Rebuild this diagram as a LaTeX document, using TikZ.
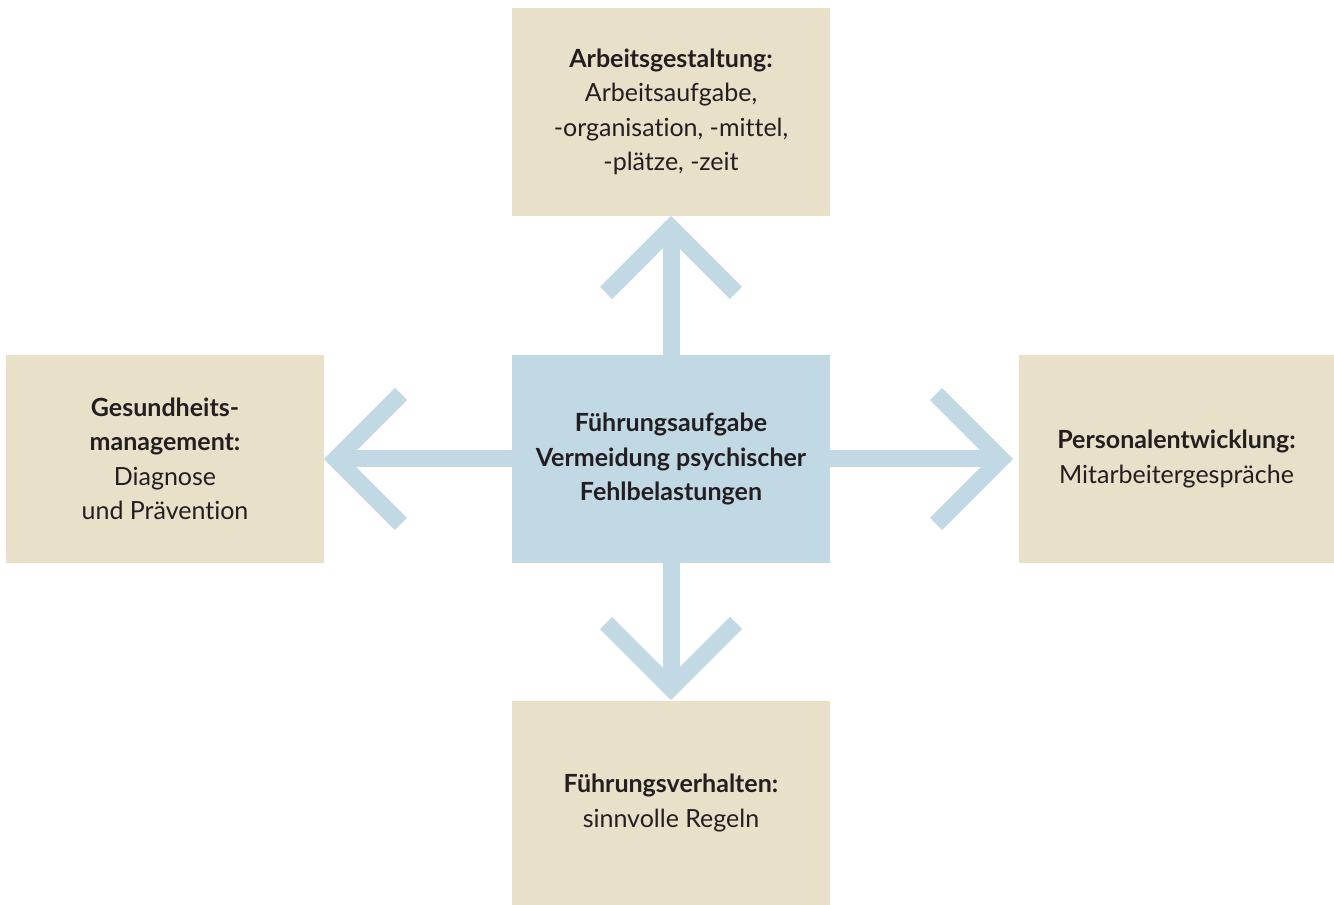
\documentclass[tikz,border=0pt]{standalone}
\usepackage{fontspec}
\setmainfont{Lato}[Ligatures=NoCommon]
\usetikzlibrary{positioning,calc}
\definecolor{Beige}{HTML}{E8E0C8}
\definecolor{Sky}{HTML}{C1D9E5}
\definecolor{Ink}{HTML}{231F20}
\tikzset{
  fieldbox/.style={fill=Beige,draw=none,outer sep=0pt,minimum width=318pt,minimum height=208pt,align=center,text=Ink,font=\fontsize{25}{34.5}\selectfont},
  hubbox/.style={fill=Sky,draw=none,outer sep=0pt,minimum width=318pt,minimum height=208pt,align=center,text=Ink,font=\fontsize{25}{34.5}\selectfont\bfseries},
  shaft/.style={draw=Sky,line width=17pt},
  chev/.style={draw=Sky,line width=17pt,line cap=butt,line join=miter}
}
\begin{document}
\begin{tikzpicture}[x=1pt,y=1pt]
  \useasboundingbox (0,0) rectangle (1334,905);
  \node[hubbox] (hub) at (671,446) {Führungsaufgabe\\Vermeidung psychischer\\Fehlbelastungen};
  \node[fieldbox,above=139pt of hub] (design) {\textbf{Arbeitsgestaltung:}\\Arbeitsaufgabe,\\-organisation, -mittel,\\-plätze, -zeit};
  \node[fieldbox,left=188pt of hub] (health) {\textbf{Gesundheits-}\\\textbf{management:}\\Diagnose\\und Prävention};
  \node[fieldbox,right=189pt of hub,minimum width=315pt] (staff) {\textbf{Personalentwicklung:}\\Mitarbeitergespräche};
  \node[fieldbox,below=138pt of hub,minimum height=204pt] (lead) {\textbf{Führungsverhalten:}\\sinnvolle Regeln};
  % arrow tips, set back so the miter point sits at the box
  \coordinate (tipN) at ($(design.south)+(0,-12)$);
  \coordinate (tipW) at ($(health.east)+(12,0)$);
  \coordinate (tipE) at ($(staff.west)+(-18,0)$);
  \coordinate (tipS) at ($(lead.north)+(0,13)$);
  \draw[shaft] (hub.north)--(tipN); \draw[shaft] (hub.west)--(tipW);
  \draw[shaft] (hub.east)--(tipE); \draw[shaft] (hub.south)--(tipS);
  \draw[chev] ($(tipN)+(-65,-65)$)--(tipN)--($(tipN)+(65,-65)$);
  \draw[chev] ($(tipW)+(65,65)$)--(tipW)--($(tipW)+(65,-65)$);
  \draw[chev] ($(tipE)+(-65,65)$)--(tipE)--($(tipE)+(-65,-65)$);
  \draw[chev] ($(tipS)+(-65,65)$)--(tipS)--($(tipS)+(65,65)$);
\end{tikzpicture}
\end{document}
